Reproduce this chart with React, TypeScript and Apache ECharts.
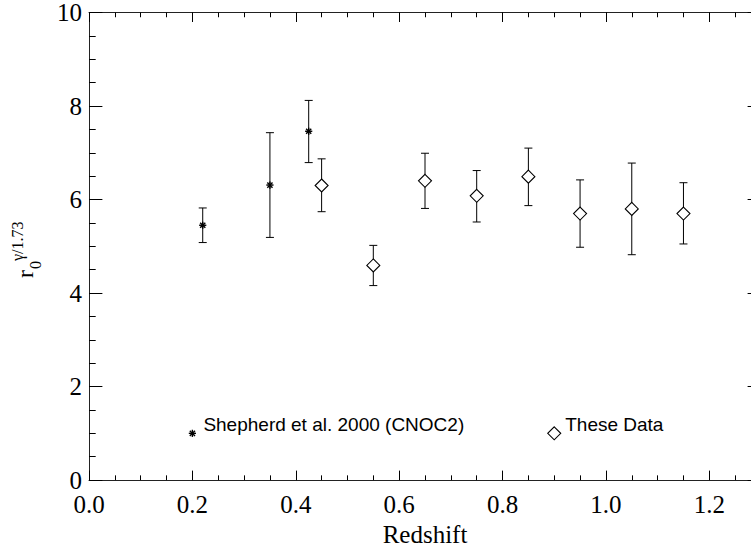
import React, { useEffect, useRef } from "react";
import * as echarts from "echarts";

// Shepherd et al. 2000 (CNOC2)
const shepX = [0.22, 0.35, 0.425];
const shepY = [5.45, 6.31, 7.46];
const shepLo = [5.08, 5.19, 6.79];
const shepHi = [5.82, 7.43, 8.12];

// These Data
const ourX = [0.45, 0.55, 0.65, 0.75, 0.85, 0.95, 1.05, 1.15];
const ourY = [6.3, 4.59, 6.4, 6.08, 6.49, 5.7, 5.8, 5.7];
const ourLo = [5.74, 4.16, 5.81, 5.52, 5.87, 4.98, 4.82, 5.05];
const ourHi = [6.87, 5.02, 6.99, 6.62, 7.1, 6.42, 6.78, 6.36];

// legend entries: [x, y] in data coordinates
const legendShep = [0.2, 1.0];
const legendOur = [0.9, 1.0];
const legendShepText = "Shepherd et al. 2000 (CNOC2)";
const legendOurText = "These Data";

const xTitle = "Redshift";

const SERIF = "'Liberation Serif', 'Times New Roman', serif";
const SANS = "'Liberation Sans', Arial, Helvetica, sans-serif";

const asterisk = (cx: number, cy: number, r: number) => {
  const d = r * 0.72;
  const st = { stroke: "#000", lineWidth: 1.4 };
  return [
    { type: "line", shape: { x1: cx, y1: cy - r, x2: cx, y2: cy + r }, style: st },
    { type: "line", shape: { x1: cx - r, y1: cy, x2: cx + r, y2: cy }, style: st },
    { type: "line", shape: { x1: cx - d, y1: cy - d, x2: cx + d, y2: cy + d }, style: st },
    { type: "line", shape: { x1: cx - d, y1: cy + d, x2: cx + d, y2: cy - d }, style: st },
  ];
};

const diamond = (cx: number, cy: number, r: number) => [
  {
    type: "polygon",
    shape: { points: [[cx, cy - r], [cx + r, cy], [cx, cy + r], [cx - r, cy]] },
    style: { fill: "#fff", stroke: "#000", lineWidth: 1.1 },
  },
];

const errRender = (kind: "ast" | "dia") => (params: any, api: any) => {
  const x = api.value(0);
  const y = api.value(1);
  const lo = api.value(2);
  const hi = api.value(3);
  const p = api.coord([x, y]);
  const pl = api.coord([x, lo]);
  const ph = api.coord([x, hi]);
  const cap = 4;
  const st = { stroke: "#000", lineWidth: 1 };
  const children: any[] = [
    { type: "line", shape: { x1: pl[0], y1: pl[1], x2: ph[0], y2: ph[1] }, style: st },
    { type: "line", shape: { x1: pl[0] - cap, y1: pl[1], x2: pl[0] + cap, y2: pl[1] }, style: st },
    { type: "line", shape: { x1: ph[0] - cap, y1: ph[1], x2: ph[0] + cap, y2: ph[1] }, style: st },
  ];
  if (kind === "ast") children.push(...asterisk(p[0], p[1], 3.6));
  else children.push(...diamond(p[0], p[1], 6.5));
  return { type: "group", children };
};

const legendRender = (kind: "ast" | "dia", label: string) => (params: any, api: any) => {
  const p = api.coord([api.value(0), api.value(1)]);
  const sym = kind === "ast" ? asterisk(p[0], p[1], 3.6) : diamond(p[0], p[1], 6.5);
  return {
    type: "group",
    children: [
      ...sym,
      {
        type: "text",
        style: {
          text: label,
          x: p[0] + 11,
          y: p[1] - 9,
          font: `19px ${SANS}`,
          fill: "#000",
          align: "left",
          verticalAlign: "middle",
        },
      },
    ],
  };
};

export default function App() {
  const ref = useRef<HTMLDivElement>(null);
  useEffect(() => {
    if (!ref.current) return;
    const chart = echarts.init(ref.current, undefined, { renderer: "svg" });
    const axLine = { show: true, onZero: false, lineStyle: { color: "#222", width: 1 } };
    const xBase = {
      type: "value",
      min: 0,
      max: 1.3,
      splitLine: { show: false },
      axisLine: axLine,
    };
    const yBase = {
      type: "value",
      min: 0,
      max: 10,
      interval: 2,
      splitLine: { show: false },
      axisLine: axLine,
      axisTick: { show: true, inside: true, length: 13.4, lineStyle: { color: "#000" } },
      minorTick: { show: true, splitNumber: 4, length: 6.7, lineStyle: { color: "#000" } },
    };
    chart.setOption({
      animation: false,
      backgroundColor: "#fff",
      grid: { left: 89, right: 11, top: 9.5, bottom: 66.5, containLabel: false },
      xAxis: [
        {
          ...xBase,
          position: "bottom",
          interval: 0.2,
          axisTick: { show: true, inside: true, length: 9.5, lineStyle: { color: "#000" } },
          axisLabel: {
            show: true,
            showMaxLabel: false,
            margin: 12,
            color: "#000",
            fontFamily: SERIF,
            fontSize: 25,
            formatter: (v: number) => v.toFixed(1),
          },
          name: xTitle,
          nameLocation: "middle",
          nameGap: 39,
          nameTextStyle: { color: "#000", fontFamily: SERIF, fontSize: 25 },
        },
        {
          ...xBase,
          position: "bottom",
          interval: 0.05,
          axisLine: { show: false, onZero: false },
          axisTick: { show: true, inside: true, length: 4.75, lineStyle: { color: "#000" } },
          axisLabel: { show: false },
        },
        {
          ...xBase,
          position: "top",
          interval: 0.2,
          axisTick: { show: true, inside: true, length: 9.5, lineStyle: { color: "#000" } },
          axisLabel: { show: false },
        },
        {
          ...xBase,
          position: "top",
          interval: 0.05,
          axisLine: { show: false, onZero: false },
          axisTick: { show: true, inside: true, length: 4.75, lineStyle: { color: "#000" } },
          axisLabel: { show: false },
        },
      ],
      yAxis: [
        {
          ...yBase,
          position: "left",
          axisLabel: {
            show: true,
            margin: 7,
            color: "#000",
            fontFamily: SERIF,
            fontSize: 25,
          },
        },
        {
          ...yBase,
          position: "right",
          axisLabel: { show: false },
        },
      ],
      graphic: [
        {
          type: "group",
          x: 37,
          y: 278,
          rotation: Math.PI / 2,
          children: [
            {
              type: "text",
              x: 0,
              y: 0,
              style: { text: "r", font: `24px ${SERIF}`, fill: "#000", align: "left", verticalAlign: "bottom" },
            },
            {
              type: "text",
              x: 9,
              y: 6,
              style: { text: "0", font: `16px ${SERIF}`, fill: "#000", align: "left", verticalAlign: "bottom" },
            },
            {
              type: "text",
              x: 17,
              y: -12,
              style: { text: "γ/1.73", font: `16px ${SERIF}`, fill: "#000", align: "left", verticalAlign: "bottom" },
            },
          ],
        },
      ],
      series: [
        {
          type: "custom",
          xAxisIndex: 0,
          yAxisIndex: 0,
          renderItem: errRender("ast"),
          encode: { x: 0, y: [1, 2, 3] },
          data: shepX.map((x, i) => [x, shepY[i], shepLo[i], shepHi[i]]),
          clip: false,
        },
        {
          type: "custom",
          xAxisIndex: 0,
          yAxisIndex: 0,
          renderItem: errRender("dia"),
          encode: { x: 0, y: [1, 2, 3] },
          data: ourX.map((x, i) => [x, ourY[i], ourLo[i], ourHi[i]]),
          clip: false,
        },
        {
          type: "custom",
          xAxisIndex: 0,
          yAxisIndex: 0,
          renderItem: legendRender("ast", legendShepText),
          encode: { x: 0, y: 1 },
          data: [legendShep],
        },
        {
          type: "custom",
          xAxisIndex: 0,
          yAxisIndex: 0,
          renderItem: legendRender("dia", legendOurText),
          encode: { x: 0, y: 1 },
          data: [legendOur],
        },
      ],
    });
    return () => chart.dispose();
  }, []);
  return (
    <div style={{ position: "fixed", left: 0, top: 0, width: 751, height: 552, overflow: "hidden", background: "#fff" }}>
      <div ref={ref} style={{ width: 772, height: 552 }} />
    </div>
  );
}
